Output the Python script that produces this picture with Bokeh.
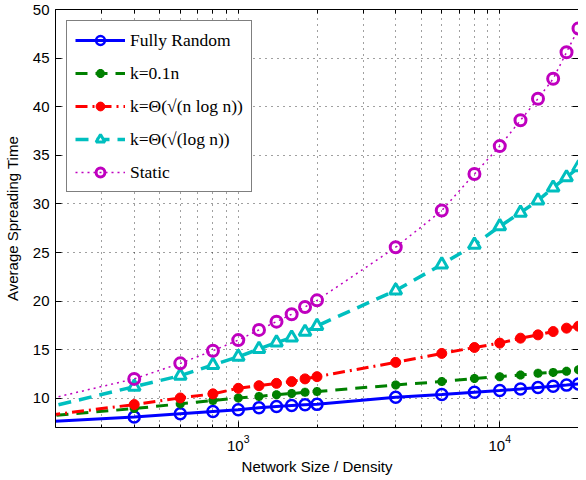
from bokeh.plotting import figure
from bokeh.models import (Range1d, LogAxis, LinearAxis, Legend, LegendItem, FixedTicker,
                          LogTickFormatter)
from bokeh.embed import file_html
from bokeh.resources import INLINE

# Network size / density (x) values
sizes = [100, 400, 600, 800, 1000, 1200, 1400, 1600, 1800, 2000,
         4000, 6000, 8000, 10000, 12000, 14000, 16000, 18000, 20000]

fully_random = [7.23, 8.07, 8.42, 8.65, 8.82, 9.03, 9.16, 9.26, 9.33, 9.38,
                10.11, 10.39, 10.63, 10.80, 10.97, 11.12, 11.24, 11.36, 11.48]
k_tenth_n = [7.53, 8.95, 9.43, 9.77, 10.04, 10.20, 10.37, 10.50, 10.62, 10.70,
             11.38, 11.72, 12.05, 12.23, 12.40, 12.57, 12.67, 12.78, 12.95]
k_sqrt_nlogn = [7.34, 9.36, 10.04, 10.46, 11.03, 11.30, 11.54, 11.72, 12.00, 12.23,
                13.70, 14.62, 15.23, 15.68, 16.19, 16.53, 16.87, 17.22, 17.42]
k_sqrt_logn = [7.32, 11.20, 12.33, 13.43, 14.28, 15.07, 15.74, 16.25, 16.84, 17.45,
               21.10, 23.77, 25.80, 27.70, 29.10, 30.35, 31.68, 32.73, 33.76]
static = [8.20, 12.00, 13.60, 14.90, 15.99, 17.04, 17.89, 18.65, 19.40, 20.08,
          25.54, 29.32, 33.08, 35.95, 38.60, 40.82, 42.87, 45.60, 48.05]

y_ticks = [10, 15, 20, 25, 30, 35, 40, 45, 50]
x_major_ticks = [1000, 10000]
x_minor_ticks = [200, 300, 400, 500, 600, 700, 800, 900,
                 2000, 3000, 4000, 5000, 6000, 7000, 8000, 9000, 20000]
series_labels = ["Fully Random", "k=0.1n", "k=Θ(√(n log n))", "k=Θ(√(log n))", "Static"]

p = figure(width=578, height=480, x_axis_type="log",
           x_range=Range1d(200, 20000), y_range=Range1d(7, 50),
           output_backend="svg", toolbar_location=None,
           min_border_left=50, min_border_right=0, min_border_top=9, min_border_bottom=53,
           background_fill_color="white", border_fill_color="white")
p.outline_line_color = None

SANS = "Liberation Sans"
SERIF = "Liberation Serif"

x_ticker = FixedTicker(ticks=x_major_ticks, minor_ticks=x_minor_ticks)
y_ticker = FixedTicker(ticks=y_ticks)

xa = p.xaxis[0]
ya = p.yaxis[0]
for ax in (xa, ya):
    ax.major_tick_in = 6
    ax.major_tick_out = 0
    ax.minor_tick_in = 3
    ax.minor_tick_out = 0
    ax.axis_line_color = "black"
    ax.major_tick_line_color = "black"
    ax.minor_tick_line_color = "black"
    ax.major_label_text_font = SANS
    ax.major_label_text_font_size = "15px"
    ax.major_label_text_color = "black"
    ax.axis_label_text_font = SANS
    ax.axis_label_text_font_size = "15px"
    ax.axis_label_text_font_style = "normal"
    ax.axis_label_text_color = "black"
ya.minor_tick_line_color = None
ya.ticker = y_ticker
ya.major_label_standoff = 6
ya.axis_label = "Average Spreading Time"
ya.axis_label_standoff = 9
xa.ticker = x_ticker
xa.formatter = LogTickFormatter()
xa.major_label_standoff = 7
xa.axis_label = "Network Size / Density"
xa.axis_label_standoff = 4

# box ticks on top / right (tick marks only, no labels)
top = LogAxis(ticker=FixedTicker(ticks=[], minor_ticks=x_minor_ticks + x_major_ticks),
              minor_tick_in=4, minor_tick_out=0, major_tick_out=0,
              minor_tick_line_color="black", axis_line_color="black")
p.add_layout(top, "above")
right = LinearAxis(ticker=FixedTicker(ticks=[], minor_ticks=y_ticks),
                   minor_tick_in=6, minor_tick_out=0, major_tick_out=0,
                   minor_tick_line_color="black", axis_line_color=None)
p.add_layout(right, "right")

# dotted grid
p.xgrid.ticker = x_ticker
p.xgrid.grid_line_color = "black"
p.xgrid.grid_line_alpha = 0.75
p.xgrid.grid_line_dash = "1 5"
p.xgrid.minor_grid_line_color = "black"
p.xgrid.minor_grid_line_alpha = 0.75
p.xgrid.minor_grid_line_dash = "1 5"
p.ygrid.ticker = y_ticker
p.ygrid.grid_line_color = "black"
p.ygrid.grid_line_alpha = 0.75
p.ygrid.grid_line_dash = "1 5"

BLUE, GREEN, RED, CYAN, MAG = "#0000FF", "#008000", "#FF0000", "#00BFBF", "#BF00BF"

items = []
l1 = p.line(sizes, fully_random, line_color=BLUE, line_width=3)
s1 = p.scatter(sizes, fully_random, marker="circle", size=11, fill_color="white",
               fill_alpha=0, line_color=BLUE, line_width=2.5)
items.append(LegendItem(label=series_labels[0], renderers=[l1, s1]))

l2 = p.line(sizes, k_tenth_n, line_color=GREEN, line_width=3, line_dash="12 8")
s2 = p.scatter(sizes, k_tenth_n, marker="asterisk", size=9, line_color=GREEN, line_width=3)
items.append(LegendItem(label=series_labels[1], renderers=[l2, s2]))

l3 = p.line(sizes, k_sqrt_nlogn, line_color=RED, line_width=3, line_dash="12 5 2 5")
s3 = p.scatter(sizes, k_sqrt_nlogn, marker="circle", size=10, fill_color=RED, line_color=RED)
items.append(LegendItem(label=series_labels[2], renderers=[l3, s3]))

l4 = p.line(sizes, k_sqrt_logn, line_color=CYAN, line_width=3.5, line_dash="13 8")
s4 = p.scatter(sizes, k_sqrt_logn, marker="triangle", size=12, fill_color="white",
               line_color=CYAN, line_width=3)
items.append(LegendItem(label=series_labels[3], renderers=[l4, s4]))

l5 = p.line(sizes, static, line_color=MAG, line_width=1.5, line_dash="2 4")
s5 = p.scatter(sizes, static, marker="circle", size=11, fill_alpha=0, line_color=MAG, line_width=3)
items.append(LegendItem(label=series_labels[4], renderers=[l5, s5]))

legend = Legend(items=items, location="top_left")
legend.label_text_font = SERIF
legend.label_text_font_size = "17.5px"
legend.label_text_color = "black"
legend.glyph_width = 50
legend.glyph_height = 22
legend.label_height = 22
legend.spacing = 11
legend.padding = 8
legend.margin = 11
legend.label_standoff = 5
legend.border_line_color = "black"
legend.border_line_width = 1.2
legend.background_fill_color = "white"
legend.background_fill_alpha = 1
p.add_layout(legend)

open("out.html", "w").write(file_html(p, INLINE))
